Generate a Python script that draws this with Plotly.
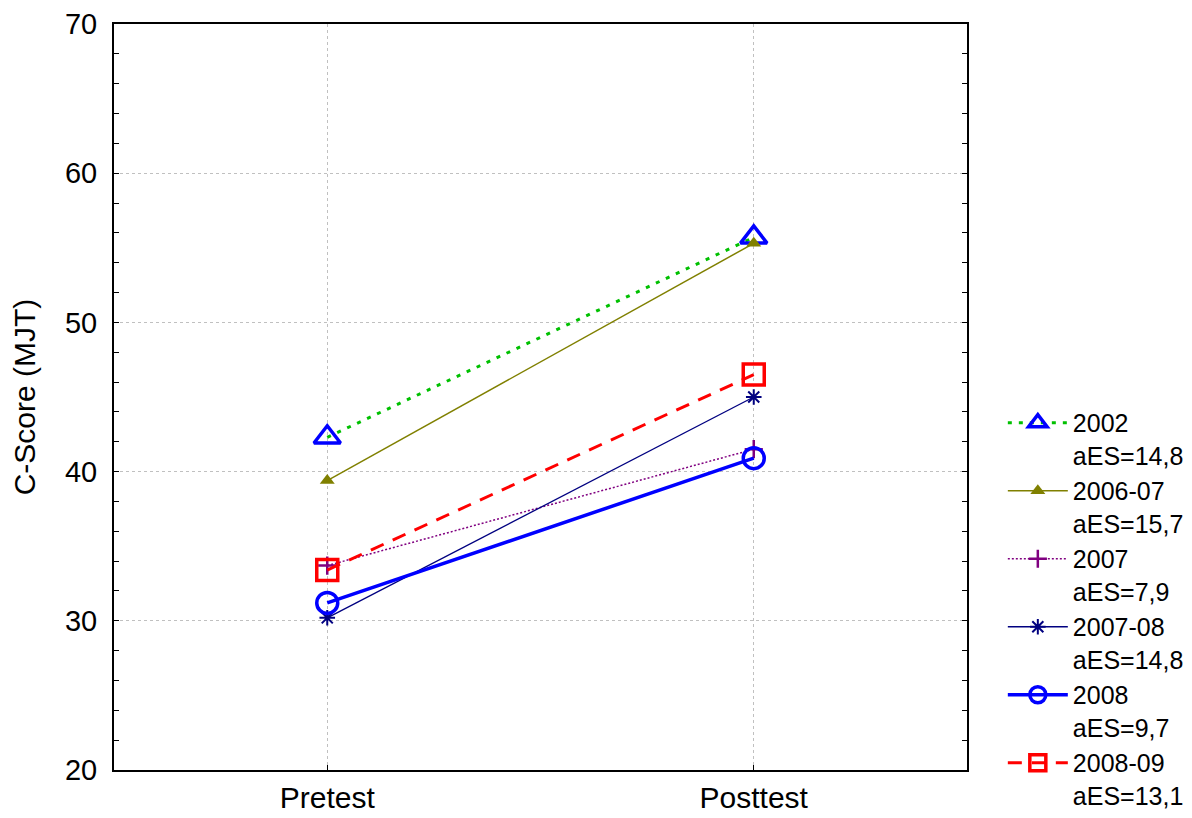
import plotly.graph_objects as go

categories = ["Pretest", "Posttest"]
series_names = ["2002<br>aES=14,8", "2006-07<br>aES=15,7", "2007<br>aES=7,9",
                "2007-08<br>aES=14,8", "2008<br>aES=9,7", "2008-09<br>aES=13,1"]
v2002 = [42.3, 55.7]
v2006_07 = [39.4, 55.3]
v2007 = [33.7, 41.5]
v2007_08 = [30.2, 45.0]
v2008 = [31.2, 40.9]
v2008_09 = [33.4, 46.5]

styles = [
    dict(line=dict(color="#00c000", width=3, dash="4px,7px"),
         marker=dict(symbol="triangle-up-open", size=23, color="#0000ff", line=dict(width=3.5, color="#0000ff"))),
    dict(line=dict(color="#808000", width=1.5, dash="solid"),
         marker=dict(symbol="triangle-up", size=13, color="#808000")),
    dict(line=dict(color="#800080", width=1.5, dash="2px,2px"),
         marker=dict(symbol="cross-thin", size=13, color="#800080", line=dict(width=2.5, color="#800080"))),
    dict(line=dict(color="#000080", width=1.3, dash="solid"),
         marker=dict(symbol="asterisk", size=13, color="#000080", line=dict(width=2, color="#000080"))),
    dict(line=dict(color="#0000ff", width=3.5, dash="solid"),
         marker=dict(symbol="circle-open", size=21, color="#0000ff", line=dict(width=3.5, color="#0000ff"))),
    dict(line=dict(color="#ff0000", width=3, dash="14px,10px"),
         marker=dict(symbol="square-open", size=21, color="#ff0000", line=dict(width=3.5, color="#ff0000"))),
]

values = [v2002, v2006_07, v2007, v2007_08, v2008, v2008_09]

fig = go.Figure()
for name, vals, st in zip(series_names, values, styles):
    fig.add_trace(go.Scatter(x=categories, y=vals, name=name, mode="lines+markers",
                             line=st["line"], marker=st["marker"]))

font_family = "Arial, Liberation Sans, sans-serif"
fig.update_layout(
    width=1184, height=810,
    margin=dict(l=106, r=225, t=16, b=48, autoexpand=False),
    paper_bgcolor="white", plot_bgcolor="white",
    font=dict(family=font_family, size=29, color="black"),
    showlegend=True,
    legend=dict(x=1.042, xanchor="left", y=0.496, yanchor="top",
                font=dict(size=25, family=font_family), valign="top",
                bgcolor="rgba(0,0,0,0)", itemwidth=60, tracegroupgap=0),
    xaxis=dict(type="category", range=[-0.5, 1.5], showgrid=True,
               gridcolor="#c0c0c0", griddash="dot", gridwidth=1,
               showline=True, linecolor="black", linewidth=2, mirror=True,
               ticks="inside", ticklen=5, tickcolor="black", automargin=False,
               tickfont=dict(size=30), zeroline=False),
    yaxis=dict(range=[20, 70], dtick=10, showgrid=True,
               gridcolor="#c0c0c0", griddash="dot", gridwidth=1,
               showline=True, linecolor="black", linewidth=2, mirror="ticks",
               ticks="inside", ticklen=5, tickcolor="black", automargin=False,
               ticklabelstandoff=9,
               minor=dict(dtick=2, ticks="inside", ticklen=5, tickcolor="black", showgrid=False),
               tickfont=dict(size=29), zeroline=False,
               title=dict(text="C-Score (MJT)", font=dict(size=30), standoff=21)),
)

fig.write_html("out.html")
